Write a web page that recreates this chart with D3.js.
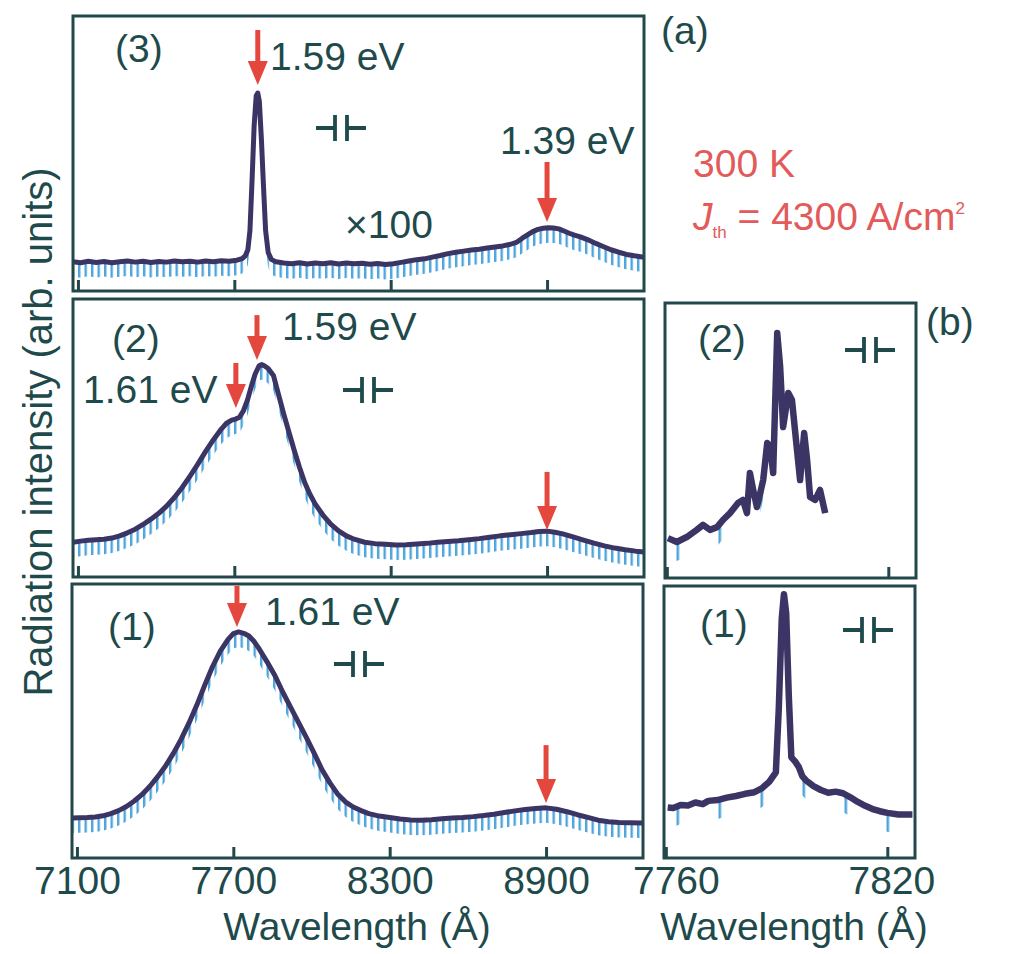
<!DOCTYPE html>
<html>
<head>
<meta charset="utf-8">
<script src="https://cdn.jsdelivr.net/npm/d3@7"></script>
<style>
  body { margin: 0; background: #fff; }
  svg text { font-family: "Liberation Sans", Arial, sans-serif; }
</style>
</head>
<body>
<div id="chart"></div>
<script>
// wavelength ticks
let aTicks = [7100, 7700, 8300, 8900];
let bTicks = [7760, 7820];

// (a)(3) spectrum, x100 above threshold, [wavelength Å, intensity]
let specA3 = [[7081,10.6],[7110,10.3],[7140,10.8],[7170,10.4],[7200,10.7],[7230,10.3],[7260,10.6],[7290,10.9],[7320,10.5],[7350,10.8],[7380,10.4],[7410,10.7],[7440,10.5],[7470,10.9],[7500,10.6],[7530,10.8],[7560,10.5],[7590,10.9],[7620,10.6],[7650,11.0],[7680,10.8],[7710,11.2],[7730,11.8],[7742,12.8],[7752,15],[7760,22],[7768,40],[7776,60],[7784,71],[7790,72],[7796,69],[7804,55],[7812,38],[7820,22],[7830,14],[7842,11.5],[7860,10.6],[7890,10.2],[7920,9.9],[7950,10.3],[7980,9.8],[8010,10.2],[8040,9.9],[8070,10.3],[8100,9.8],[8130,10.2],[8160,9.9],[8190,10.1],[8220,9.7],[8250,10.0],[8280,9.6],[8310,9.9],[8340,10.4],[8370,10.9],[8400,11.4],[8430,11.7],[8460,12.3],[8490,12.9],[8520,13.6],[8550,14.1],[8580,14.5],[8610,14.9],[8640,15.2],[8670,15.6],[8700,16.0],[8730,16.4],[8760,17.0],[8785,17.8],[8805,19.2],[8825,20.4],[8845,21.6],[8865,22.4],[8885,22.8],[8905,23.0],[8925,22.9],[8945,22.6],[8965,21.8],[8985,21.0],[9005,20.3],[9025,19.8],[9055,18.7],[9085,17.4],[9115,16.2],[9145,15.0],[9175,14.1],[9205,13.3],[9235,12.8],[9272,12.3]];

// (a)(2) spectrum
let specA2 = [[7081,12.5],[7110,12.9],[7140,13.2],[7170,13.4],[7200,13.6],[7230,14.0],[7260,14.8],[7290,15.9],[7320,17.2],[7350,18.9],[7380,20.8],[7410,22.9],[7440,25.5],[7470,28.6],[7500,32.2],[7530,36.3],[7560,40.6],[7590,45.2],[7620,49.4],[7650,53.2],[7670,55.3],[7690,56.4],[7705,56.8],[7720,57.5],[7735,59.8],[7750,63.5],[7765,68.5],[7780,73.0],[7795,76.0],[7805,76.4],[7815,76.0],[7830,75.0],[7850,72.5],[7870,65.5],[7890,58.5],[7910,52.0],[7930,45.5],[7950,39.5],[7970,34.0],[7990,29.8],[8010,26.3],[8040,22.3],[8070,19.0],[8100,16.6],[8130,14.8],[8160,13.6],[8200,12.5],[8240,12.0],[8280,11.8],[8320,11.5],[8360,11.6],[8400,11.9],[8440,12.1],[8480,12.5],[8520,12.8],[8560,13.0],[8600,13.4],[8640,13.8],[8680,14.3],[8720,14.8],[8760,15.2],[8800,15.6],[8840,16.0],[8870,16.4],[8900,16.5],[8930,16.1],[8960,15.5],[9000,14.4],[9040,13.3],[9080,12.2],[9120,11.2],[9160,10.4],[9200,9.8],[9240,9.3],[9272,9.0]];

// (a)(1) spectrum
let specA1 = [[7081,14.6],[7110,14.7],[7140,14.8],[7170,15.0],[7200,15.4],[7230,16.2],[7260,17.3],[7290,18.8],[7320,20.8],[7350,23.2],[7380,26.2],[7410,29.7],[7440,33.6],[7470,38.2],[7500,43.4],[7530,49.3],[7560,55.8],[7590,63.0],[7620,69.8],[7650,75.5],[7680,79.8],[7700,81.9],[7720,82.5],[7740,82.0],[7760,81.0],[7780,79.0],[7800,76.2],[7830,71.5],[7860,66.5],[7890,60.5],[7920,55.0],[7950,49.5],[7980,44.0],[8010,38.3],[8040,32.3],[8070,27.5],[8100,23.4],[8130,20.5],[8160,18.6],[8190,17.3],[8220,16.2],[8260,15.3],[8300,14.8],[8340,14.2],[8380,13.9],[8420,13.8],[8460,14.0],[8500,14.3],[8540,14.6],[8580,14.8],[8620,15.1],[8660,15.5],[8700,16.0],[8740,16.6],[8780,17.2],[8820,17.7],[8860,18.1],[8900,18.3],[8940,17.8],[8980,16.9],[9020,15.8],[9060,14.8],[9100,13.8],[9140,13.2],[9180,13.0],[9220,12.9],[9272,12.8]];

// (b)(2) high resolution spectrum
let specB2 = [[7760.3,14.5],[7762.7,13.1],[7765.4,14.9],[7768.1,17.5],[7769.8,19.3],[7771.7,17.5],[7773.6,18.5],[7775.2,21.1],[7777.1,23.6],[7779.3,27.3],[7780.6,28.4],[7781.7,23.6],[7782.5,38.2],[7783.4,32.0],[7784.4,25.8],[7785.3,30.9],[7786.1,35.6],[7787.2,49.1],[7788.0,47.6],[7788.8,38.2],[7789.9,89.1],[7790.7,76.7],[7791.5,54.9],[7792.9,67.3],[7793.9,64.7],[7794.8,52.7],[7796.1,35.6],[7797.2,52.7],[7798.0,42.9],[7798.8,29.5],[7800.2,28.4],[7801.5,32.0],[7802.9,23.6]];

// (b)(1) high resolution spectrum
let specB1 = [[7760.5,18.6],[7762,18.4],[7764,19.5],[7766,19.3],[7768,20.4],[7770,19.8],[7771.5,21.0],[7774,21.3],[7776.5,22.2],[7779,22.8],[7781.5,23.6],[7784,24.2],[7786,25.6],[7788,28.0],[7789.8,31.5],[7790.6,55],[7791.4,88],[7792,97],[7792.6,90],[7793.3,60],[7794,37],[7795,35.5],[7796,33.5],[7797,30],[7798,28.5],[7800,26.4],[7802,25.0],[7804,24.0],[7806,24.4],[7808,23.8],[7810,22.3],[7812,20.6],[7814,19.2],[7816,18.0],[7818,17.2],[7820,16.6],[7823,16.0],[7826.8,16.0]];

let colors = {
  text: "#1f4a4c",
  frame: "#23484b",
  line: "#3b3566",
  hatch: "#4ea5dd",
  red: "#e4473d",
  redText: "#e25a5a"
};

let fontSize = 39;

// small horizontal nudges of tick labels as printed
let labelShift = { 7760: 10, 7820: 4 };

let panels = [
  { id: "a3", x0: 73, x1: 644, y0: 16, y1: 291, domain: [7081, 9272], ticks: aTicks, labels: false, data: specA3, hatch: "hatchA", band: 15, width: 5,
    mirror: [341, 128], tag: ["(3)", 115, 62],
    arrows: [[7790, 94.9, 74.9], [8900, 46.9, 25.1]],
    notes: [["1.59 eV", 270, 70], ["1.39 eV", 500, 154], ["\u00d7100", 345, 238]] },
  { id: "a2", x0: 73, x1: 644, y0: 299, y1: 577, domain: [7081, 9272], ticks: aTicks, labels: false, data: specA2, hatch: "hatchA", band: 15, width: 5,
    mirror: [368, 390], tag: ["(2)", 112, 352],
    arrows: [[7787, 94.2, 78.1], [7706, 77.0, 60.8], [8900, 37.8, 16.9]],
    notes: [["1.59 eV", 282, 340], ["1.61 eV", 83, 403]] },
  { id: "a1", x0: 72, x1: 643, y0: 584, y1: 858, domain: [7081, 9272], ticks: aTicks, labels: true, data: specA1, hatch: "hatchA", band: 15, width: 5,
    mirror: [359, 664], tag: ["(1)", 108, 640],
    arrows: [[7714, 99.3, 84.3], [8900, 41.2, 20.1]],
    notes: [["1.61 eV", 265, 625]] },
  { id: "b2", x0: 665, x1: 916, y0: 303, y1: 578, domain: [7759.5, 7827.5], ticks: bTicks, labels: false, data: specB2, hatch: "hatchB", band: 19, width: 6.5,
    mirror: [870, 350], tag: ["(2)", 698, 352], arrows: [], notes: [] },
  { id: "b1", x0: 664, x1: 915, y0: 586, y1: 858, domain: [7759.5, 7827.5], ticks: bTicks, labels: true, data: specB1, hatch: "hatchB", band: 19, width: 6.5,
    mirror: [868, 630], tag: ["(1)", 700, 637], arrows: [], notes: [] }
];

let svg = d3.select("#chart").append("svg")
  .attr("width", 1012)
  .attr("height", 954);

let defs = svg.append("defs");

// dense blue hatching below the curves in (a)
let pa = defs.append("pattern")
  .attr("id", "hatchA")
  .attr("patternUnits", "userSpaceOnUse")
  .attr("width", 6.5)
  .attr("height", 40);
pa.append("rect").attr("x", 0).attr("y", 0).attr("width", 2.4).attr("height", 40).attr("fill", colors.hatch);

// sparse blue marks in (b)
let pb = defs.append("pattern")
  .attr("id", "hatchB")
  .attr("patternUnits", "userSpaceOnUse")
  .attr("x", 676.5)
  .attr("width", 42)
  .attr("height", 40);
pb.append("rect").attr("x", 0).attr("y", 0).attr("width", 2.6).attr("height", 40).attr("fill", colors.hatch);

panels.forEach(p => {
  let xScale = d3.scaleLinear().domain(p.domain).range([p.x0, p.x1]);
  let yScale = d3.scaleLinear().domain([0, 100]).range([p.y1, p.y0]);

  defs.append("clipPath")
    .attr("id", "clip-" + p.id)
    .append("rect")
      .attr("x", p.x0).attr("y", p.y0)
      .attr("width", p.x1 - p.x0).attr("height", p.y1 - p.y0);

  let g = svg.append("g");
  let plot = g.append("g").attr("clip-path", "url(#clip-" + p.id + ")");

  // hatch band
  let band = d3.area()
    .x(d => xScale(d[0]))
    .y0(d => yScale(d[1]) + p.band)
    .y1(d => yScale(d[1]));
  plot.append("path")
    .datum(p.data)
    .attr("d", band)
    .attr("fill", "url(#" + p.hatch + ")");

  // spectrum
  let line = d3.line()
    .x(d => xScale(d[0]))
    .y(d => yScale(d[1]));
  plot.append("path")
    .datum(p.data)
    .attr("d", line)
    .attr("fill", "none")
    .attr("stroke", colors.line)
    .attr("stroke-width", p.width)
    .attr("stroke-linejoin", "round");

  // axis ticks (inward)
  let axis = d3.axisBottom(xScale)
    .tickValues(p.ticks)
    .tickSizeInner(-11)
    .tickSizeOuter(0)
    .tickPadding(8)
    .tickFormat(p.labels ? d3.format("d") : "");
  let ax = g.append("g")
    .attr("transform", "translate(0," + p.y1 + ")")
    .call(axis);
  ax.select(".domain").remove();
  ax.selectAll("line").attr("stroke", colors.frame).attr("stroke-width", 3);
  ax.selectAll("text")
    .attr("fill", colors.text)
    .attr("dx", d => labelShift[d] || 0)
    .style("font-size", fontSize + "px")
    .style("font-family", "Liberation Sans, Arial, sans-serif");

  // frame
  g.append("rect")
    .attr("x", p.x0).attr("y", p.y0)
    .attr("width", p.x1 - p.x0).attr("height", p.y1 - p.y0)
    .attr("fill", "none")
    .attr("stroke", colors.frame)
    .attr("stroke-width", 3);

  // cavity mirror symbol
  let mx = p.mirror[0], my = p.mirror[1];
  g.append("path")
    .attr("d", "M" + (mx - 25) + "," + my + "H" + (mx - 6) +
               "M" + (mx - 6) + "," + (my - 13) + "V" + (my + 13) +
               "M" + (mx + 6) + "," + (my - 13) + "V" + (my + 13) +
               "M" + (mx + 6) + "," + my + "H" + (mx + 25))
    .attr("fill", "none")
    .attr("stroke", colors.text)
    .attr("stroke-width", 3.8);

  // red arrows
  p.arrows.forEach(a => {
    let ax0 = xScale(a[0]);
    let yTop = yScale(a[1]);
    let yTip = yScale(a[2]);
    g.append("line")
      .attr("x1", ax0).attr("x2", ax0)
      .attr("y1", yTop).attr("y2", yTip - 20)
      .attr("stroke", colors.red)
      .attr("stroke-width", 5);
    g.append("path")
      .attr("d", "M" + (ax0 - 10) + "," + (yTip - 24) + "L" + (ax0 + 10) + "," + (yTip - 24) + "L" + ax0 + "," + yTip + "Z")
      .attr("fill", colors.red);
  });

  // panel tag and annotations
  g.append("text")
    .attr("x", p.tag[1]).attr("y", p.tag[2])
    .attr("fill", colors.text)
    .style("font-size", fontSize + "px")
    .text(p.tag[0]);

  p.notes.forEach(n => {
    g.append("text")
      .attr("x", n[1]).attr("y", n[2])
      .attr("fill", colors.text)
      .style("font-size", fontSize + "px")
      .text(n[0]);
  });
});

// figure labels
svg.append("text").attr("x", 661).attr("y", 44)
  .attr("fill", colors.text).style("font-size", fontSize + "px").text("(a)");
svg.append("text").attr("x", 926).attr("y", 335)
  .attr("fill", colors.text).style("font-size", fontSize + "px").text("(b)");

// conditions
svg.append("text").attr("x", 693).attr("y", 177)
  .attr("fill", colors.redText).style("font-size", fontSize + "px").text("300 K");
let jt = svg.append("text").attr("x", 693).attr("y", 230)
  .attr("fill", colors.redText).style("font-size", fontSize + "px");
jt.append("tspan").style("font-style", "italic").text("J");
jt.append("tspan").attr("dy", 8).style("font-size", "17px").text("th");
jt.append("tspan").attr("dy", -8).text(" = 4300 A/cm");
jt.append("tspan").attr("dy", -16).style("font-size", "17px").text("2");

// axis titles
svg.append("text")
  .attr("transform", "translate(52,432) rotate(-90)")
  .attr("text-anchor", "middle")
  .attr("fill", colors.text)
  .style("font-size", "40px")
  .text("Radiation intensity (arb. units)");

svg.append("text")
  .attr("x", 357).attr("y", 940)
  .attr("text-anchor", "middle")
  .attr("fill", colors.text)
  .style("font-size", fontSize + "px")
  .text("Wavelength (\u00c5)");

svg.append("text")
  .attr("x", 794).attr("y", 940)
  .attr("text-anchor", "middle")
  .attr("fill", colors.text)
  .style("font-size", fontSize + "px")
  .text("Wavelength (\u00c5)");
</script>
</body>
</html>
